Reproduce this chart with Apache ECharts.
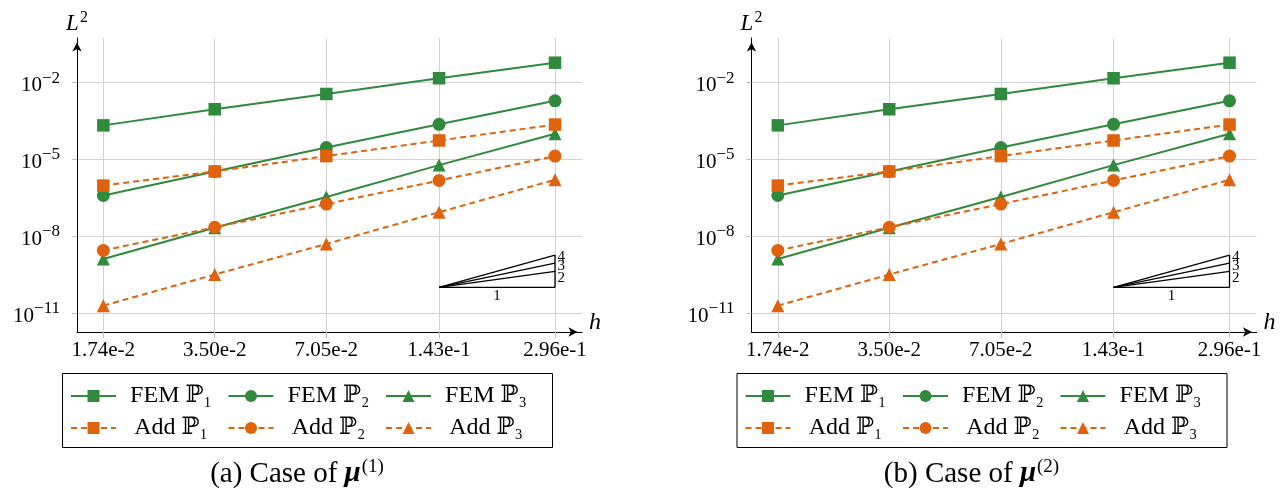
<!DOCTYPE html>
<html>
<head>
<meta charset="utf-8">
<script src="https://cdn.jsdelivr.net/npm/echarts@6/dist/echarts.min.js"></script>
<style>
html,body{margin:0;padding:0;background:#ffffff;}
#c{width:1282px;height:492px;}
</style>
</head>
<body>
<div id="c"></div>
<script>
// ---------------- data ----------------
const hValues = [0.0174, 0.0350, 0.0705, 0.143, 0.296];
const hLabels = ['1.74e-2', '3.50e-2', '7.05e-2', '1.43e-1', '2.96e-1'];
const yTickValues = [1e-11, 1e-8, 1e-5, 1e-2];
const yTickExponents = ['−11', '−8', '−5', '−2'];
const seriesNames = ['FEM ℙ₁', 'FEM ℙ₂', 'FEM ℙ₃', 'Add ℙ₁', 'Add ℙ₂', 'Add ℙ₃'];

// case (a)  mu^(1)
const femP1_a = [2.14e-4, 9.1e-4, 3.6e-3, 1.48e-2, 6.0e-2];
const femP2_a = [3.9e-7, 3.4e-6, 2.9e-5, 2.35e-4, 1.95e-3];
const femP3_a = [1.29e-9, 2.14e-8, 3.4e-7, 6.0e-6, 1.0e-4];
const addP1_a = [9.5e-7, 3.4e-6, 1.35e-5, 5.5e-5, 2.3e-4];
const addP2_a = [2.8e-9, 2.24e-8, 1.8e-7, 1.5e-6, 1.35e-5];
const addP3_a = [1.95e-11, 3.2e-10, 5.0e-9, 8.7e-8, 1.6e-6];

// case (b)  mu^(2)
const femP1_b = [2.14e-4, 9.1e-4, 3.6e-3, 1.48e-2, 6.0e-2];
const femP2_b = [3.9e-7, 3.4e-6, 2.9e-5, 2.35e-4, 1.95e-3];
const femP3_b = [1.29e-9, 2.14e-8, 3.4e-7, 6.0e-6, 1.0e-4];
const addP1_b = [9.5e-7, 3.4e-6, 1.35e-5, 5.5e-5, 2.3e-4];
const addP2_b = [2.8e-9, 2.24e-8, 1.8e-7, 1.5e-6, 1.35e-5];
const addP3_b = [1.95e-11, 3.2e-10, 5.0e-9, 8.7e-8, 1.6e-6];

// slope triangle annotation
const slopeH = [0.143, 0.296];
const slopeMidH = 0.2057;
const slopeBaseErr = 1e-10;
const slopeOrders = ['2', '3', '4'];
const slopeTopErr = [4.28e-10, 8.87e-10, 1.84e-9];
const slopeRunLabel = '1';

const captionTexts = ['(a) Case of ', '(b) Case of '];
const captionSups = ['(1)', '(2)'];

// ---------------- style ----------------
const SERIF = "'Liberation Serif', 'DejaVu Serif', serif";
const GREEN = '#2f8a3b';
const ORANGE = '#e0620d';
const GRIDC = '#d2d2d2';

const panels = [
  { left: 77, fem: [femP1_a, femP2_a, femP3_a], add: [addP1_a, addP2_a, addP3_a] },
  { left: 751.5, fem: [femP1_b, femP2_b, femP3_b], add: [addP1_b, addP2_b, addP3_b] }
];
const PW = 505, PTOP = 38, PH = 294;
const symbols = ['rect', 'circle', 'triangle'];
const symbolSizes = [12.5, 13, 13];

function nearestIdx(arr, v) {
  let best = 0, bd = Infinity;
  arr.forEach((a, i) => { const d = Math.abs(Math.log(a) - Math.log(v)); if (d < bd) { bd = d; best = i; } });
  return best;
}

const grids = [], xAxes = [], yAxes = [], series = [], legends = [], graphics = [];

panels.forEach((p, i) => {
  grids.push({ left: p.left, top: PTOP, width: PW, height: PH, containLabel: false });
  xAxes.push({
    type: 'log', gridIndex: i, logBase: 10, min: 0.01475, max: 0.3506,
    name: 'h', nameLocation: 'end', nameGap: 7,
    nameTextStyle: { fontFamily: SERIF, fontStyle: 'italic', fontSize: 24, color: '#000', verticalAlign: 'bottom', lineHeight: 18 },
    axisLine: { show: true, onZero: false, lineStyle: { color: '#000', width: 1 }, symbol: ['none', 'arrow'], symbolSize: [7, 9], symbolOffset: [0, -4.5] },
    axisTick: { show: true, customValues: hValues, length: 6, lineStyle: { color: '#bdbdbd', width: 1 } },
    axisLabel: {
      show: true, customValues: hValues, margin: 8, color: '#000', fontFamily: SERIF, fontSize: 21,
      formatter: v => hLabels[nearestIdx(hValues, v)]
    },
    splitLine: { show: true, lineStyle: { color: GRIDC, width: 1 } },
    minorTick: { show: false }, minorSplitLine: { show: false }
  });
  yAxes.push({
    type: 'log', gridIndex: i, logBase: 10, min: 1.82e-12, max: 0.553,
    name: '{l|L}{s|2}', nameLocation: 'end', nameGap: 0,
    nameTextStyle: {
      color: '#000',
      rich: {
        l: { fontFamily: SERIF, fontStyle: 'italic', fontSize: 23, color: '#000' },
        s: { fontFamily: SERIF, fontSize: 16, color: '#000', padding: [0, 0, 12, 1] }
      }
    },
    axisLine: { show: true, onZero: false, lineStyle: { color: '#000', width: 1 }, symbol: ['none', 'arrow'], symbolSize: [7, 9], symbolOffset: [0, -4.5] },
    axisTick: { show: true, customValues: yTickValues, length: 5, lineStyle: { color: '#bdbdbd', width: 1 } },
    axisLabel: {
      show: true, customValues: yTickValues, margin: 17,
      formatter: v => '{b|10}{e|' + yTickExponents[nearestIdx(yTickValues, v)] + '}',
      rich: {
        b: { fontFamily: SERIF, fontSize: 21, color: '#000', padding: [6, 0, 0, 0] },
        e: { fontFamily: SERIF, fontSize: 17, color: '#000', padding: [0, 0, 9, 0] }
      }
    },
    splitLine: { show: true, lineStyle: { color: GRIDC, width: 1 } },
    minorTick: { show: false }, minorSplitLine: { show: false }
  });

  const groups = [p.fem, p.add];
  groups.forEach((grp, g) => {
    grp.forEach((vals, k) => {
      const color = g === 0 ? GREEN : ORANGE;
      series.push({
        type: 'line', name: seriesNames[g * 3 + k], xAxisIndex: i, yAxisIndex: i,
        data: hValues.map((h, j) => [h, vals[j]]),
        symbol: symbols[k], symbolSize: symbolSizes[k], showSymbol: true,
        lineStyle: { color: color, width: 2, type: g === 0 ? 'solid' : [6, 4] },
        itemStyle: { color: color },
        emphasis: { disabled: true }, silent: true, animation: false, z: 3 + g
      });
    });
  });

  // slope triangle
  const slopeLine = (data) => ({
    type: 'line', xAxisIndex: i, yAxisIndex: i, data: data,
    symbol: 'circle', symbolSize: 1, itemStyle: { color: 'rgba(0,0,0,0)' },
    lineStyle: { color: '#000', width: 1.3, type: 'solid' },
    emphasis: { disabled: true }, silent: true, animation: false, z: 5
  });
  series.push(slopeLine([
    [slopeH[0], slopeBaseErr],
    { value: [slopeMidH, slopeBaseErr], label: { show: true, position: 'bottom', distance: 1, formatter: slopeRunLabel, color: '#000', fontFamily: SERIF, fontSize: 15 } },
    [slopeH[1], slopeBaseErr]
  ]));
  series.push(slopeLine([[slopeH[1], slopeBaseErr], [slopeH[1], slopeTopErr[2]]]));
  const labelOffsets = [[0, 7], [0, 3], [0, 2]];
  slopeTopErr.forEach((te, k) => {
    series.push(slopeLine([
      [slopeH[0], slopeBaseErr],
      { value: [slopeH[1], te], label: { show: true, position: 'right', distance: 2, offset: labelOffsets[k], formatter: slopeOrders[k], color: '#000', fontFamily: SERIF, fontSize: 15 } }
    ]));
  });

  // legend: three columns (FEM / Add of same order stacked)
  for (let k = 0; k < 3; k++) {
    legends.push({
      data: [seriesNames[k], seriesNames[k + 3]],
      left: p.left - 7 + 157.5 * k, top: 384, orient: 'vertical',
      padding: 0, itemGap: 8, itemWidth: 45, itemHeight: 15,
      selectedMode: false,
      formatter: name => '{t|' + name + '}',
      textStyle: { rich: { t: { width: 100, align: 'center', lineHeight: 22, fontSize: 24, fontFamily: SERIF, color: '#000' } } }
    });
  }
  graphics.push({
    type: 'rect', silent: true,
    shape: { x: p.left - 14.5, y: 373.5, width: 490, height: 74 },
    style: { fill: 'none', stroke: '#000', lineWidth: 1 }
  });

  graphics.push({
    type: 'text', x: p.left + 220, y: 474,
    style: {
      text: captionTexts[i] + '{m|μ}{s|' + captionSups[i] + '}',
      align: 'center', verticalAlign: 'middle', fill: '#000', fontFamily: SERIF, fontSize: 29,
      rich: {
        m: { fontFamily: SERIF, fontSize: 29, fontWeight: 'bold', fontStyle: 'italic', fill: '#000' },
        s: { fontFamily: SERIF, fontSize: 19, fill: '#000', padding: [0, 0, 13, 1] }
      }
    },
    silent: true
  });
});

const chart = echarts.init(document.getElementById('c'), null, { renderer: 'canvas' });
chart.setOption({
  backgroundColor: '#ffffff',
  animation: false,
  grid: grids, xAxis: xAxes, yAxis: yAxes, series: series, legend: legends,
  graphic: graphics
});
</script>
</body>
</html>
